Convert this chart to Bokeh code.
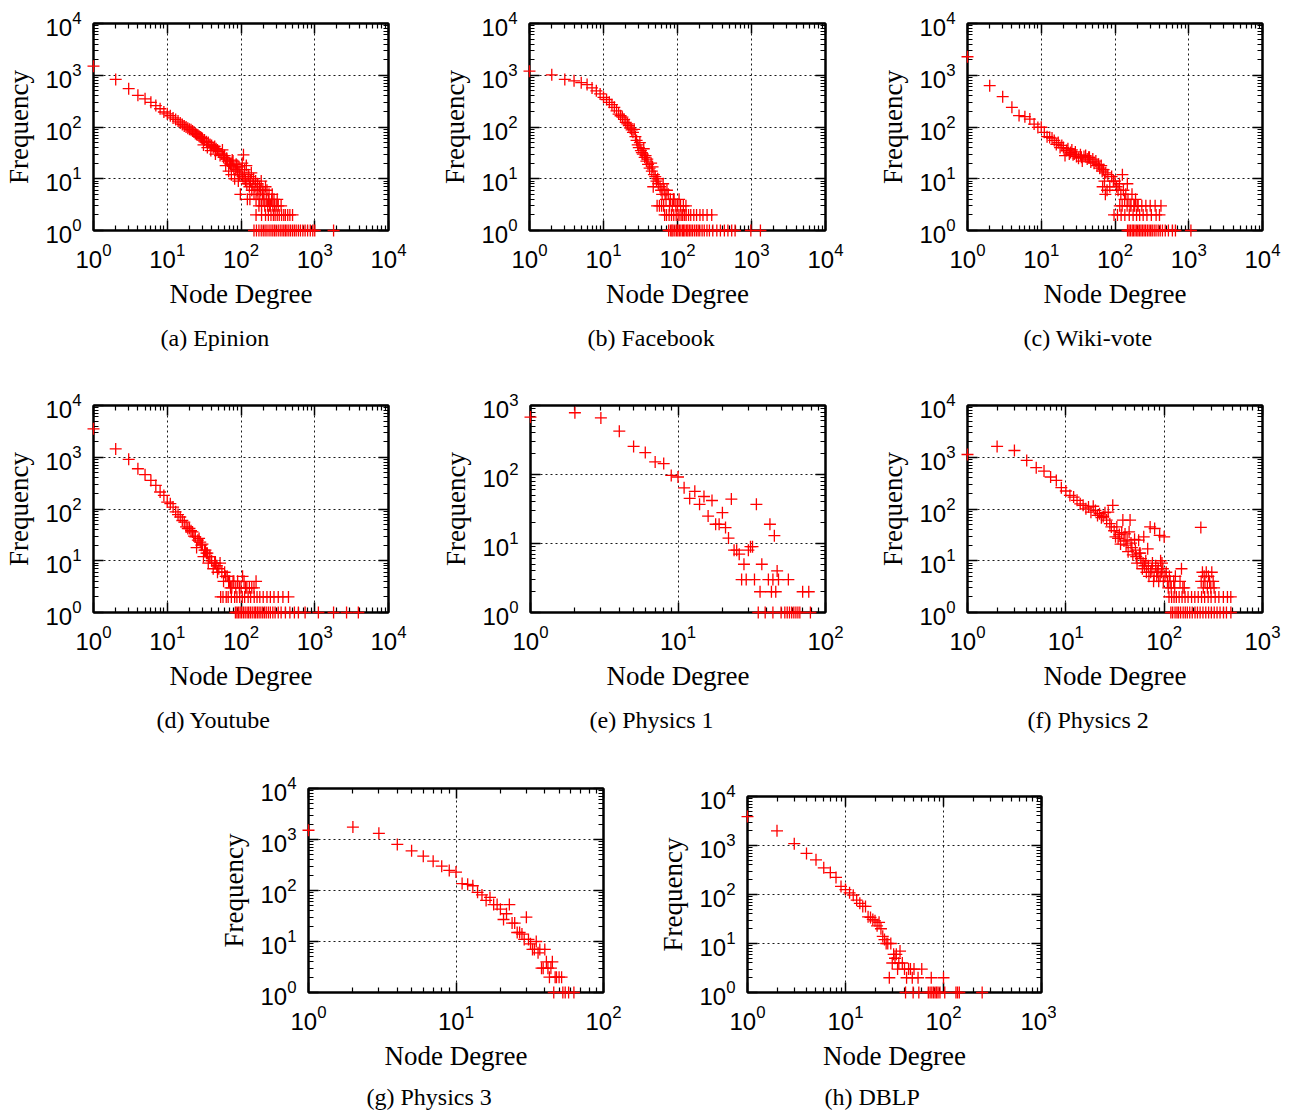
from bokeh.plotting import figure
from bokeh.models import (LogAxis, FixedTicker, Range1d, Title, CustomJSTickFormatter,
                          ColumnDataSource)
from bokeh.layouts import column, row
from bokeh.embed import file_html
from bokeh.resources import INLINE

# ---------------- data ----------------
epinion_deg = [1, 2, 3, 4, 5, 6, 7, 8, 9, 10, 11, 12, 13, 14, 15, 16, 17, 18, 19, 20,
               21, 22, 23, 24, 25, 26, 27, 28, 29, 30, 32, 34, 36, 38, 40, 42, 44, 46, 48, 50,
               31, 35, 39, 45, 52, 55, 58, 60, 63, 66, 70, 72, 75, 78, 80, 85, 88, 90, 95, 100,
               108, 62, 68, 74, 82, 92, 98, 105, 110, 115, 120, 125, 130, 135, 140, 145, 150,
               155, 160, 165, 170, 175, 180, 185, 190, 195, 200, 210, 220, 230, 240, 250, 260,
               270, 280, 300, 320, 350, 122, 132,
               104, 112, 118, 128, 138, 148, 158, 168, 178, 188, 198, 205, 215, 225, 235, 245,
               265, 285, 310, 56, 64, 76, 86, 94,
               160, 190, 215, 235, 255, 275, 290, 310, 330, 355, 380, 400, 430, 460, 500,
               150, 162, 175, 188, 200, 212, 225, 240, 255, 270, 285, 300, 320, 340, 360, 380,
               400, 420, 445, 470, 500, 530, 560, 600, 640, 690, 740, 800, 870, 940, 1000, 1800]
epinion_freq = [1500, 830, 550, 410, 350, 300, 260, 225, 195, 180, 165, 150, 140, 130, 120, 112, 105, 100, 95, 90,
                88, 84, 80, 75, 72, 70, 66, 64, 62, 60, 56, 52, 50, 46, 44, 40, 42, 38, 36, 34,
                45, 40, 35, 30, 28, 30, 26, 28, 24, 22, 20, 19, 18, 22, 16, 15, 17, 14, 12, 13,
                29, 18, 14, 12, 10, 9, 5, 11, 10, 9, 8, 12, 7, 9, 6, 8, 5,
                7, 4, 6, 5, 3, 4, 6, 3, 5, 4, 3, 4, 3, 5, 3, 4,
                3, 4, 3, 3, 3, 4, 4,
                20, 15, 18, 11, 13, 10, 9, 8, 7, 9, 6, 5, 7, 6, 4, 3,
                5, 3, 4, 36, 25, 23, 19, 17,
                2, 2, 2, 2, 2, 2, 2, 2, 2, 2, 2, 2, 2, 2, 2,
                1, 1, 1, 1, 1, 1, 1, 1, 1, 1, 1, 1, 1, 1, 1, 1,
                1, 1, 1, 1, 1, 1, 1, 1, 1, 1, 1, 1, 1, 1, 1, 1]

facebook_deg = [1, 2, 3, 4, 5, 6, 7, 8, 9, 10, 11, 12, 13, 14, 15, 16, 17, 18, 19, 20,
                21, 22, 23, 24, 25, 26, 27, 28, 29, 30, 31, 32, 33, 34, 35, 36, 37, 38, 39, 40,
                42, 44, 45, 46, 48, 50, 52, 54, 55, 58, 60, 62, 64, 65, 66, 68, 70, 72, 75, 78,
                80, 85, 88, 90, 95, 100, 105, 110, 115, 120, 125, 130, 47, 53, 57, 61,
                67, 71, 77, 83, 89, 96, 102, 108, 116, 123, 131, 141, 151, 166, 181, 201, 221, 251, 290,
                76, 81, 84, 87, 92, 97, 101, 106, 111, 117, 121, 126, 133, 138, 145, 152, 160, 170,
                180, 190, 200, 215, 230, 250, 270, 300, 340, 380, 430, 480, 540, 600, 980, 1320]
facebook_freq = [1200, 1020, 830, 780, 720, 660, 570, 500, 435, 375, 340, 300, 270, 240, 205, 178, 165, 155, 140, 123,
                 115, 106, 95, 88, 79, 90, 65, 55, 45, 40, 50, 35, 32, 30, 38, 26, 28, 22, 24, 19,
                 16, 20, 14, 17, 12, 11, 9, 10, 8, 7, 6, 5, 8, 3, 6, 5, 4, 6, 5, 3,
                 4, 3, 4, 4, 3, 3, 4, 3, 2, 3, 2, 3, 7, 3, 3, 3,
                 2, 2, 2, 2, 2, 2, 2, 2, 2, 2, 2, 2, 2, 2, 2, 2, 2, 2, 2,
                 1, 1, 1, 1, 1, 1, 1, 1, 1, 1, 1, 1, 1, 1, 1, 1, 1, 1,
                 1, 1, 1, 1, 1, 1, 1, 1, 1, 1, 1, 1, 1, 1, 1, 1]

wiki_deg = [1, 2, 3, 4, 5, 6, 7, 8, 9, 10, 11, 12, 13, 14, 15, 16, 17, 18, 19, 20,
            21, 22, 23, 24, 25, 26, 27, 28, 29, 30, 32, 34, 35, 36, 38, 40, 42, 44, 45, 47,
            50, 52, 55, 57, 60, 62, 65, 67, 70, 72, 75, 78, 80, 85, 90, 95, 100, 105, 110, 115,
            120, 126, 130, 135, 140, 147, 150, 160, 170, 180, 190, 200, 74, 68,
            116, 125, 146, 165, 185, 206, 231, 262, 300, 350, 420,
            97, 108, 121, 136, 156, 176, 196, 216, 241, 271, 311, 361, 401,
            148, 155, 162, 171, 178, 187, 197, 205, 215, 225, 236, 248, 260, 275, 290, 305, 320,
            340, 360, 385, 410, 440, 480, 530, 600, 660, 1070]
wiki_freq = [2280, 630, 385, 240, 166, 158, 142, 114, 98, 99, 79, 65, 63, 61, 55, 46, 50, 40, 44, 40,
             28, 35, 38, 30, 32, 36, 29, 30, 33, 27, 25, 29, 26, 22, 27, 28, 24, 26, 26, 21,
             24, 20, 22, 18, 19, 16, 18, 14, 15, 9, 13, 6, 12, 7, 11, 9, 9, 7, 6, 8,
             5, 12, 6, 4, 5, 8, 4, 3, 5, 3, 4, 3, 5, 7,
             3, 3, 3, 3, 3, 3, 3, 3, 3, 3, 3,
             2, 2, 2, 2, 2, 2, 2, 2, 2, 2, 2, 2, 2,
             1, 1, 1, 1, 1, 1, 1, 1, 1, 1, 1, 1, 1, 1, 1, 1, 1,
             1, 1, 1, 1, 1, 1, 1, 1, 1, 1]

youtube_deg = [1, 2, 3, 4, 5, 6, 7, 8, 9, 10, 11, 12, 13, 14, 15, 16, 17, 18, 19, 20,
               21, 22, 23, 24, 25, 26, 27, 28, 29, 30, 31, 32, 33, 34, 35, 36, 37, 38, 40, 42,
               44, 45, 47, 48, 50, 52, 55, 58, 60, 62, 65, 68, 70, 72, 75, 78, 80, 85, 90, 95,
               100, 105, 110, 115, 120, 130, 140, 150, 160,
               53, 57, 63, 67, 74, 82, 88, 96, 104, 112, 125, 135, 151, 165, 180, 200, 225, 250,
               280, 320, 370, 440,
               84, 88, 92, 97, 102, 108, 114, 121, 127, 134, 142, 151, 158, 167, 176, 186, 197,
               208, 220, 235, 250, 270, 290, 320, 350, 400, 460, 530, 600, 740, 1120, 1800, 2700, 3900]
youtube_freq = [3550, 1450, 910, 600, 460, 357, 286, 213, 183, 136, 127, 109, 88, 78, 70, 60, 56, 45, 42, 42,
                38, 36, 30, 29, 18, 25, 27, 23, 20, 21, 12, 16, 16, 14, 14, 9, 12, 12, 10, 7,
                9, 9, 8, 6, 7, 9, 6, 4, 6, 5, 5, 4, 4, 3, 3, 4, 4, 3, 4, 3,
                3, 5, 4, 3, 3, 3, 3, 3, 4,
                2, 2, 2, 2, 2, 2, 2, 2, 2, 2, 2, 2, 2, 2, 2, 2, 2, 2,
                2, 2, 2, 2,
                1, 1, 1, 1, 1, 1, 1, 1, 1, 1, 1, 1, 1, 1, 1, 1, 1,
                1, 1, 1, 1, 1, 1, 1, 1, 1, 1, 1, 1, 1, 1, 1, 1, 1]

phys1_deg = [1, 2, 3, 4, 5, 6, 7, 8, 9, 10, 11, 12, 13, 14, 15, 16, 17, 18, 19, 20,
             21, 22, 23, 24, 25, 26, 27, 28, 29, 30, 31, 32, 33, 34, 36, 37, 41, 42, 43, 44,
             45, 46, 47, 48, 56, 70, 77,
             35, 39, 44, 50, 53, 55, 57, 59, 61, 63, 65, 67, 79]
phys1_freq = [680, 785, 660, 425, 255, 208, 152, 144, 97, 92, 64, 45, 57, 37, 48, 25, 42, 19, 19, 28,
              17, 12, 44, 8, 8, 7, 3, 5, 3, 8, 9, 9, 3, 37, 2, 5, 3, 19, 2, 3,
              13, 2, 4, 3, 3, 2, 2,
              1, 1, 1, 1, 1, 1, 1, 1, 1, 1, 1, 1, 1]

phys2_deg = [1, 2, 3, 4, 5, 6, 7, 8, 9, 10, 11, 12, 13, 14, 15, 16, 17, 18, 19, 20,
             21, 22, 23, 24, 25, 26, 27, 28, 29, 30, 31, 32, 33, 34, 35, 36, 37, 38, 39, 40,
             41, 42, 43, 44, 45, 46, 47, 48, 50, 51, 52, 53, 55, 56, 57, 58, 60, 61, 62, 63,
             65, 66, 68, 69, 70, 72, 73, 75, 76, 78, 79, 80, 82, 84, 85, 87, 88, 90, 91, 92,
             94, 95, 97, 98, 100, 102, 105, 108, 110, 113, 115, 118, 125, 128, 130, 145, 150,
             155, 160, 236, 238, 245, 250, 255, 260, 268, 275, 282, 290, 298, 305, 315, 322,
             112, 119, 126, 133, 142, 152, 163, 175, 190, 205, 222, 240, 258, 280, 300, 330,
             360, 400, 440, 476,
             117, 122, 129, 135, 140, 147, 156, 164, 172, 182, 193, 206, 218, 232, 248, 265, 283,
             302, 323, 345, 370, 401, 430, 477]
phys2_freq = [1130, 1620, 1350, 870, 630, 540, 415, 356, 258, 223, 183, 170, 147, 126, 118, 101, 109, 87, 113, 94,
              75, 81, 68, 72, 85, 61, 87, 52, 45, 118, 38, 29, 45, 27, 32, 21, 35, 61, 24, 33,
              20, 25, 15, 36, 61, 22, 18, 13, 26, 16, 12, 9, 25, 14, 14, 11, 7, 9, 29, 8,
              10, 6, 17, 8, 5, 45, 6, 7, 9, 4, 5, 42, 8, 5, 6, 7, 4, 31, 5, 10,
              6, 9, 7, 4, 29, 5, 6, 4, 3, 5, 4, 3, 4, 3, 5, 4, 7,
              3, 3, 44, 4, 6, 3, 5, 4, 6, 3, 5, 4, 3, 6, 4, 3,
              2, 2, 2, 2, 2, 2, 2, 2, 2, 2, 2, 2, 2, 2, 2, 2,
              2, 2, 2, 2,
              1, 1, 1, 1, 1, 1, 1, 1, 1, 1, 1, 1, 1, 1, 1, 1, 1,
              1, 1, 1, 1, 1, 1, 1]

phys3_deg = [1, 2, 3, 4, 5, 6, 7, 8, 9, 10, 11, 12, 13, 14, 15, 16, 17, 18, 19, 20,
             21, 22, 23, 24, 25, 26, 27, 28, 29, 30, 31, 32, 33, 34, 35, 36, 37, 38, 39, 40,
             41, 42, 43, 44, 45, 47, 48, 50, 52,
             46, 53, 55, 58, 63]
phys3_freq = [1520, 1750, 1320, 800, 600, 470, 375, 300, 248, 230, 137, 132, 124, 92, 82, 64, 73, 53, 53, 43,
              27, 35, 53, 23, 23, 15, 15, 14, 11, 30, 11, 9, 7, 7, 10, 6, 7, 3, 3, 7,
              4, 3, 2, 3, 4, 2, 2, 2, 2,
              1, 1, 1, 1, 1]

dblp_deg = [1, 2, 3, 4, 5, 6, 7, 8, 9, 10, 11, 12, 13, 14, 15, 16, 17, 18, 19, 20,
            21, 22, 23, 24, 25, 26, 27, 28, 29, 30, 31, 32, 33, 34, 35, 36, 38, 40, 42, 44,
            46, 48, 50, 55, 60, 75, 100,
            41, 49, 56, 70, 73, 76, 79, 82, 85, 88, 92, 103, 134, 139, 145, 248]
dblp_freq = [3900, 1990, 1090, 690, 510, 350, 280, 223, 146, 126, 108, 97, 77, 66, 57, 57, 35, 34, 31, 29,
             23, 27, 20, 14, 12, 10, 10, 2, 10, 4, 6, 5, 6, 3, 4, 7, 4, 3, 2, 3,
             3, 2, 3, 2, 3, 2, 2,
             1, 1, 1, 1, 1, 1, 1, 1, 1, 1, 1, 1, 1, 1, 1, 1]

captions = ["(a) Epinion", "(b) Facebook", "(c) Wiki-vote", "(d) Youtube",
            "(e) Physics 1", "(f) Physics 2", "(g) Physics 3", "(h) DBLP"]
x_label = "Node Degree"
y_label = "Frequency"

# ---------------- styling helpers ----------------
TICK_FONT = "Liberation Sans"
LABEL_FONT = "Liberation Serif"


def decade_ticker(n_dec):
    major = [10.0 ** k for k in range(0, n_dec + 1)]
    minor = [m * 10.0 ** k for k in range(0, n_dec) for m in range(2, 10)]
    return FixedTicker(ticks=major, minor_ticks=minor)


def style_axis(ax):
    ax.axis_line_width = 2
    ax.axis_line_color = "black"
    ax.major_tick_in = 10
    ax.major_tick_out = 0
    ax.minor_tick_in = 5
    ax.minor_tick_out = 0
    ax.major_tick_line_width = 1.5
    ax.minor_tick_line_width = 1.2
    ax.major_tick_line_color = "black"
    ax.minor_tick_line_color = "black"


def panel(deg, freq, caption, xdec, ydec, w, h, bl, br, bt, bb, cap_offset, cap_standoff=22):
    xt = decade_ticker(xdec)
    yt = decade_ticker(ydec)
    p = figure(width=w, height=h, x_axis_type="log", y_axis_type="log",
               x_range=Range1d(1, 10 ** xdec), y_range=Range1d(1, 10 ** ydec),
               output_backend="svg", toolbar_location=None, title_location=None,
               min_border_left=bl, min_border_right=br, min_border_top=bt,
               min_border_bottom=bb)
    p.background_fill_color = "white"
    p.border_fill_color = "white"
    p.outline_line_color = "black"
    p.outline_line_width = 2

    xa = p.xaxis[0]
    ya = p.yaxis[0]
    xa.ticker = xt
    ya.ticker = yt
    for ax in (xa, ya):
        style_axis(ax)
        ax.major_label_text_font = TICK_FONT
        ax.major_label_text_font_size = "24px"
        ax.major_label_text_color = "black"
        ax.axis_label_text_font = LABEL_FONT
        ax.axis_label_text_font_size = "27px"
        ax.axis_label_text_font_style = "normal"
        ax.axis_label_text_color = "black"
    xa.axis_label = x_label
    ya.axis_label = y_label
    xa.major_label_standoff = 12
    xa.axis_label_standoff = 8
    ya.major_label_standoff = 12
    ya.axis_label_standoff = 8

    for loc, tk in (("above", xt), ("right", yt)):
        ax = LogAxis(ticker=tk, formatter=CustomJSTickFormatter(code="return ''"),
                     major_label_text_font_size="0px", major_label_standoff=0)
        style_axis(ax)
        p.add_layout(ax, loc)

    p.xgrid.ticker = xt
    p.ygrid.ticker = yt
    for g in (p.xgrid, p.ygrid):
        g.grid_line_color = "black"
        g.grid_line_dash = "2 3"
        g.grid_line_width = 1
        g.grid_line_alpha = 0.9

    src = ColumnDataSource(data=dict(x=deg, y=freq))
    p.scatter(x="x", y="y", source=src, marker="cross", size=12,
              line_color="#ff0000", line_width=1.3, level="overlay")

    cap = Title(text=caption, align="left", offset=cap_offset,
                text_font=LABEL_FONT, text_font_size="24px",
                text_font_style="normal", text_color="black", standoff=cap_standoff)
    p.add_layout(cap, "below")
    return p


# Row 1 (top 0, height 388): frames 295 x 207 at y 23..230
pa = panel(epinion_deg, epinion_freq, captions[0], 4, 4, 436, 388, 93, 48, 23, 158, 67)
pb = panel(facebook_deg, facebook_freq, captions[1], 4, 4, 438, 388, 93, 49, 23, 158, 58)
pc = panel(wiki_deg, wiki_freq, captions[2], 4, 4, 408, 388, 93, 20, 23, 158, 56)

# Row 2 (top 388, height 380): frames at y 405..612
pd = panel(youtube_deg, youtube_freq, captions[3], 4, 4, 436, 380, 93, 48, 17, 156, 63)
pe = panel(phys1_deg, phys1_freq, captions[4], 2, 3, 438, 380, 94, 49, 17, 156, 59)
pf = panel(phys2_deg, phys2_freq, captions[5], 3, 4, 408, 380, 93, 20, 17, 156, 60)

# Row 3 (top 768, height 350)
pg = panel(phys3_deg, phys3_freq, captions[6], 2, 4, 655, 350, 308, 52, 20, 122, 58, 17)
ph = panel(dblp_deg, dblp_freq, captions[7], 3, 4, 401, 350, 85, 15, 28, 119, 77, 17)

layout = column(row(pa, pb, pc), row(pd, pe, pf), row(column(pg), column(ph)))

with open("out.html", "w") as f:
    f.write(file_html(layout, INLINE))
